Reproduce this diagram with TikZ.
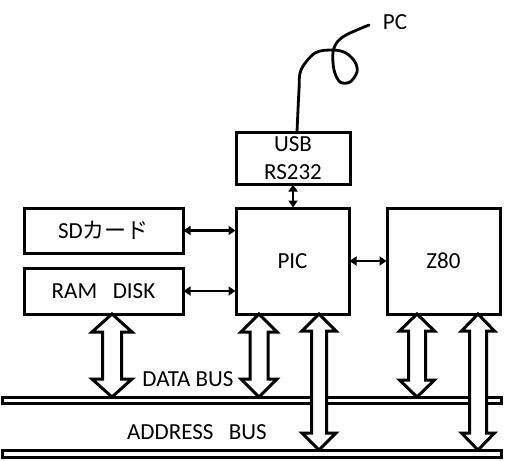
\documentclass[tikz,border=0pt]{standalone}
\usepackage{fontspec}
\setmainfont{Carlito}
\newfontfamily\jpfont{Noto Sans CJK JP}
\usetikzlibrary{arrows.meta,calc}
\tikzset{
  blk/.style={draw, line width=3pt, inner sep=0pt, outer sep=0pt, font=\fontsize{23}{28}\selectfont, align=center},
  bus/.style={draw, line width=3pt, inner sep=0pt, outer sep=0pt, minimum width=499, minimum height=6},
  hol/.style={draw, line width=3pt, fill=white, line join=miter},
  sarr/.style={line width=2.6pt, {Triangle[length=7pt,width=9pt]}-{Triangle[length=7pt,width=9pt]}, shorten <=0.5pt, shorten >=0.5pt},
  cable/.style={line width=2.8pt, line cap=round, line join=round},
  lbl/.style={font=\fontsize{23}{27}\selectfont, inner sep=0pt}
}
% hollow double arrow: #1 x, #2 top node, #3 bottom node, #4 shaft half, #5 head half, #6 head length
\newcommand{\hollowdarrow}[6]{%
  \draw[hol] let \p1=(#2.south), \p2=(#3.north) in
    (#1pt,\y1) -- (#1pt+#5pt,\y1-#6pt) -- (#1pt+#4pt,\y1-#6pt) -- (#1pt+#4pt,\y2+#6pt) -- (#1pt+#5pt,\y2+#6pt)
    -- (#1pt,\y2) -- (#1pt-#5pt,\y2+#6pt) -- (#1pt-#4pt,\y2+#6pt) -- (#1pt-#4pt,\y1-#6pt) -- (#1pt-#5pt,\y1-#6pt) -- cycle;}
\begin{document}
\begin{tikzpicture}[x=1pt,y=-1pt]
\useasboundingbox (0,0) rectangle (510,460);
% boxes
\node[blk, minimum width=159, minimum height=45] (sd) at (103.5,230.5) {SD{\jpfont\fontsize{22}{28}\selectfont カード}};
\node[blk, minimum width=159, minimum height=46] (ram) at (103.5,291) {RAM\ \ \ DISK};
\node[blk, minimum width=113, minimum height=106] (pic) at (292.5,261) {PIC};
\node[blk, minimum width=113, minimum height=106] (z80) at (443.5,261) {Z80};
\node[blk, minimum width=114, minimum height=52] (usb) at (293,158) {USB\\RS232};
% buses
\node[bus] (databus) at (251.5,400) {};
\node[bus, minimum height=7] (addrbus) at (251.5,453.5) {};
\node[lbl] (dlabel) at (188,379) {DATA BUS};
\node[lbl] (alabel) at (197,432) {ADDRESS\ \ \ BUS};
% small arrows
\draw[sarr] (sd.east) -- (sd.east -| pic.west);
\draw[sarr] (ram.east) -- (ram.east -| pic.west);
\draw[sarr] (pic.east) -- (z80.west);
\draw[sarr] (usb.south) -- (usb.south |- pic.north);
% hollow bus arrows
\hollowdarrow{112}{ram}{databus}{9.5}{20}{18}
\hollowdarrow{259}{pic}{databus}{9}{18}{18}
\hollowdarrow{319}{pic}{addrbus}{7.5}{17}{17}
\hollowdarrow{417}{z80}{databus}{8.5}{17.5}{17}
\hollowdarrow{478}{z80}{addrbus}{8.5}{16.5}{17}
% cable to PC
\coordinate (cabstart) at (297,132);
\coordinate (pcend) at (369,25);
\node[lbl] (pc) at (395,22) {PC};
\draw[cable] plot[smooth, tension=0.55] coordinates {(297,132) (299,90) (301,70) (315,53) (333,50) (346,53) (355,62) (357,72) (350,82) (340,82) (334,70) (333,52) (338,41) (348,34) (369,25)};
\end{tikzpicture}
\end{document}
